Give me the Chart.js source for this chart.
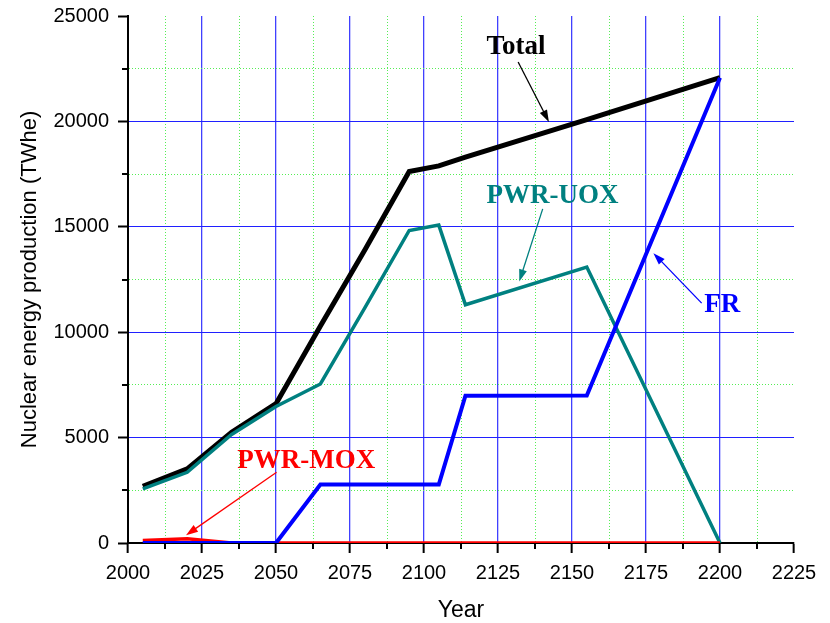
<!DOCTYPE html>
<html>
<head>
<meta charset="utf-8">
<script src="https://cdn.jsdelivr.net/npm/chart.js@4"></script>
<style>
  body { margin: 0; background: #fff; }
  #wrap { width: 830px; height: 623px; }
</style>
</head>
<body>
<div id="wrap"><canvas id="energyChart" width="830" height="623"></canvas></div>
<script>
// data
var years = [2005, 2020, 2035, 2050, 2065, 2080, 2095, 2105, 2114, 2155, 2200];
var totalValues = [2690, 3515, 5250, 6610, 10290, 13900, 17620, 17890, 18300, 20080, 22075];
var uoxValues = [2570, 3355, 5150, 6480, 7545, 11150, 14825, 15080, 11300, 13090, 0];
var moxValues = [120, 200, 0, 0, 0, 0, 0, 0, 0, 0, 0];
var frValues = [0, 0, 0, 0, 2770, 2770, 2770, 2770, 6990, 7000, 22075];

var xTickLabels = ['2000', '2025', '2050', '2075', '2100', '2125', '2150', '2175', '2200', '2225'];
var yTickLabels = ['0', '5000', '10000', '15000', '20000', '25000'];

// labels with arrows, in data units (year, TWhe)
var noteTexts = ['Total', 'PWR-UOX', 'FR', 'PWR-MOX'];
var noteColors = ['#000000', '#008080', '#0000ff', '#ff0000'];
var noteAt = [[2131.1, 23200], [2143.4, 16140], [2200.8, 10940], [2060.2, 3560]];
var arrowFrom = [[2131.8, 22820], [2140.1, 15850], [2193.8, 11380], [2050.2, 3355]];
var arrowTo = [[2142.2, 19975], [2132.2, 12410], [2177.5, 13750], [2019.6, 370]];

function toPoints(vals) {
    return years.map((y, i) => ({ x: y, y: vals[i] }));
}

function isMajor(v, step) {
    return Math.abs(v / step - Math.round(v / step)) < 1e-6;
}

/* minor ticks (shorter) drawn on the axes */
var minorTicks = {
    id: 'minorTicks',
    afterDraw(chart) {
        const ctx = chart.ctx;
        const xs = chart.scales.x, ys = chart.scales.y;
        ctx.save();
        ctx.strokeStyle = '#000';
        ctx.lineWidth = 2;
        xs.ticks.forEach(t => {
            if (isMajor(t.value - 2000, 25)) return;
            const px = Math.round(xs.getPixelForValue(t.value));
            ctx.beginPath();
            ctx.moveTo(px, ys.bottom);
            ctx.lineTo(px, ys.bottom + 6);
            ctx.stroke();
        });
        ys.ticks.forEach(t => {
            if (isMajor(t.value, 5000)) return;
            const py = Math.round(ys.getPixelForValue(t.value));
            ctx.beginPath();
            ctx.moveTo(xs.left, py);
            ctx.lineTo(xs.left - 6, py);
            ctx.stroke();
        });
        ctx.restore();
    }
};

/* text labels and arrows */
var notes = {
    id: 'notes',
    afterDatasetsDraw(chart) {
        const ctx = chart.ctx;
        const xs = chart.scales.x, ys = chart.scales.y;
        ctx.save();
        ctx.font = 'bold 27px "Liberation Serif", "Times New Roman", serif';
        ctx.textAlign = 'center';
        ctx.textBaseline = 'alphabetic';
        noteTexts.forEach((txt, i) => {
            ctx.fillStyle = noteColors[i];
            ctx.fillText(txt, xs.getPixelForValue(noteAt[i][0]), ys.getPixelForValue(noteAt[i][1]));

            const x1 = xs.getPixelForValue(arrowFrom[i][0]), y1 = ys.getPixelForValue(arrowFrom[i][1]);
            const x2 = xs.getPixelForValue(arrowTo[i][0]), y2 = ys.getPixelForValue(arrowTo[i][1]);
            const ang = Math.atan2(y2 - y1, x2 - x1);
            ctx.strokeStyle = noteColors[i];
            ctx.lineWidth = 1.3;
            ctx.beginPath();
            ctx.moveTo(x1, y1);
            ctx.lineTo(x2 - 8 * Math.cos(ang), y2 - 8 * Math.sin(ang));
            ctx.stroke();
            ctx.beginPath();
            ctx.moveTo(x2, y2);
            ctx.lineTo(x2 - 12 * Math.cos(ang) + 4 * Math.sin(ang), y2 - 12 * Math.sin(ang) - 4 * Math.cos(ang));
            ctx.lineTo(x2 - 12 * Math.cos(ang) - 4 * Math.sin(ang), y2 - 12 * Math.sin(ang) + 4 * Math.cos(ang));
            ctx.closePath();
            ctx.fill();
        });
        ctx.restore();
    }
};

var tickFont = { family: '"Liberation Sans", Arial, sans-serif', size: 20 };
var titleFont = { family: '"Liberation Sans", Arial, sans-serif', size: 22, lineHeight: 1 };

const ctx = document.getElementById('energyChart').getContext('2d');
const energyChart = new Chart(ctx, {
    type: 'line',
    data: {
        datasets: [
            { label: 'FR', data: toPoints(frValues), borderColor: '#0000ff', borderWidth: 4, order: 1 },
            { label: 'PWR-MOX', data: toPoints(moxValues), borderColor: '#ff0000', borderWidth: 3.5, order: 2 },
            { label: 'PWR-UOX', data: toPoints(uoxValues), borderColor: '#008080', borderWidth: 3.5, order: 3 },
            { label: 'Total', data: toPoints(totalValues), borderColor: '#000000', borderWidth: 5, order: 4 }
        ]
    },
    options: {
        responsive: false,
        animation: false,
        events: [],
        elements: {
            point: { radius: 0 },
            line: { tension: 0, fill: false }
        },
        layout: { padding: { top: 16, right: 36, left: 0, bottom: 0 } },
        plugins: {
            legend: { display: false },
            tooltip: { enabled: false }
        },
        scales: {
            x: {
                type: 'linear',
                min: 2000,
                max: 2225,
                afterFit: (scale) => { scale.height = 80; scale.paddingLeft = 0; scale.paddingRight = 0; },
                ticks: {
                    stepSize: 12.5,
                    autoSkip: false,
                    maxRotation: 0,
                    padding: 8,
                    color: '#000',
                    font: tickFont,
                    callback: (v) => {
                        const s = String(Math.round(v));
                        return isMajor(v - 2000, 25) && xTickLabels.includes(s) ? s : '';
                    }
                },
                grid: {
                    color: (c) => {
                        const v = c.tick ? c.tick.value : 0;
                        if (v >= 2225 || v <= 2000) return 'rgba(0,0,0,0)';
                        return isMajor(v - 2000, 25) ? '#4040ff' : '#55ee55';
                    },
                    lineWidth: (c) => (c.tick && isMajor(c.tick.value - 2000, 25)) ? 1.3 : 1,
                    tickLength: 10,
                    tickWidth: 2,
                    tickColor: (c) => (c.tick && isMajor(c.tick.value - 2000, 25)) ? '#000' : 'rgba(0,0,0,0)'
                },
                border: {
                    color: '#000',
                    width: 2,
                    dash: (c) => (c.tick && !isMajor(c.tick.value - 2000, 25)) ? [1, 2] : []
                },
                title: {
                    display: true,
                    text: 'Year',
                    color: '#000',
                    font: { family: '"Liberation Sans", Arial, sans-serif', size: 23, lineHeight: 1 },
                    padding: { top: 0, bottom: 1 }
                }
            },
            y: {
                min: 0,
                max: 25000,
                afterFit: (scale) => { scale.width = 128; scale.paddingTop = 0; scale.paddingBottom = 0; },
                ticks: {
                    stepSize: 2500,
                    autoSkip: false,
                    padding: 9,
                    color: '#000',
                    font: tickFont,
                    callback: (v) => {
                        const s = String(v);
                        return isMajor(v, 5000) && yTickLabels.includes(s) ? s : '';
                    }
                },
                grid: {
                    color: (c) => {
                        const v = c.tick ? c.tick.value : 0;
                        if (v >= 25000 || v <= 0) return 'rgba(0,0,0,0)';
                        return isMajor(v, 5000) ? '#2020ff' : '#55ee55';
                    },
                    lineWidth: 1,
                    tickLength: 10,
                    tickWidth: 2,
                    tickColor: (c) => (c.tick && isMajor(c.tick.value, 5000)) ? '#000' : 'rgba(0,0,0,0)'
                },
                border: {
                    color: '#000',
                    width: 2,
                    dash: (c) => (c.tick && !isMajor(c.tick.value, 5000)) ? [1, 2] : []
                },
                title: {
                    display: true,
                    text: 'Nuclear energy production (TWhe)',
                    color: '#000',
                    font: titleFont,
                    padding: { top: 19, bottom: 0 }
                }
            }
        }
    },
    plugins: [minorTicks, notes]
});
</script>
</body>
</html>
